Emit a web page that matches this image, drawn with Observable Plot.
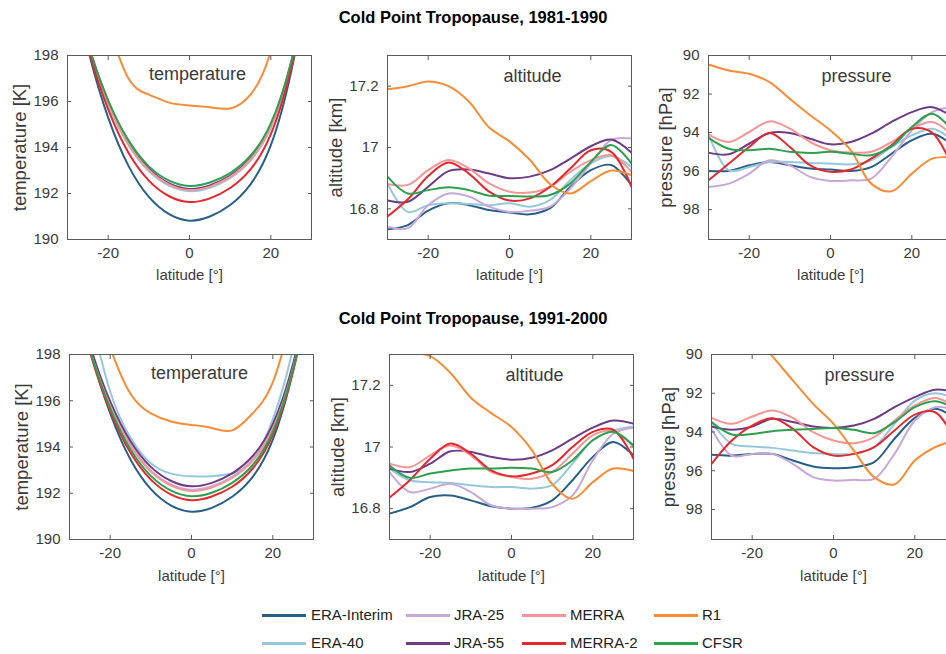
<!DOCTYPE html>
<html><head><meta charset="utf-8">
<script src="https://cdn.jsdelivr.net/npm/d3@7"></script>
<script src="https://cdn.jsdelivr.net/npm/@observablehq/plot@0.6"></script>
<style>
html,body{margin:0;padding:0;background:#fff;overflow:hidden;}
#root{position:relative;width:946px;height:654px;overflow:hidden;font-family:"Liberation Sans",Arial,Helvetica,sans-serif;}
.title{position:absolute;left:0;width:946px;text-align:center;font-weight:bold;font-size:16.5px;line-height:20px;color:#000;}
.leg{position:absolute;font-size:15px;line-height:18px;color:#222;white-space:nowrap;}
.legline{position:absolute;height:3px;width:44px;}
</style></head><body><div id="root"></div>
<script>
const lat = [-30,-25,-20,-15,-10,-5,0,5,10,15,20,25,30];
const datasets = ["ERA-Interim","ERA-40","JRA-25","JRA-55","MERRA","MERRA-2","R1","CFSR"];
const colors = ["#285f87","#96c8dc","#c7a8d6","#6e3c87","#f59696","#e5282d","#fa8c37","#2ca04f"];
const periods = ["Cold Point Tropopause, 1981-1990","Cold Point Tropopause, 1991-2000"];

// order of rows: ERA-Interim, ERA-40, JRA-25, JRA-55, MERRA, MERRA-2, R1, CFSR
const temp1981 = [
  [202.3,198.3,195.3,193.2,191.85,191.1,190.82,191.0,191.5,192.4,194.1,197.3,202.0],
  [201.76,198.38,195.86,194.1,192.97,192.34,192.1,192.25,192.67,193.43,194.86,197.54,201.5],
  [201.81,198.43,195.91,194.15,193.02,192.39,192.15,192.3,192.72,193.48,194.91,197.59,201.56],
  [201.98,198.56,196.01,194.22,193.08,192.44,192.2,192.35,192.78,193.54,194.99,197.71,201.72],
  [201.87,198.47,195.94,194.16,193.02,192.39,192.15,192.3,192.72,193.49,194.92,197.63,201.61],
  [201.98,198.36,195.66,193.77,192.56,191.88,191.63,191.79,192.24,193.05,194.58,197.46,201.71],
  [205,202,199.3,197.0,196.3,195.95,195.83,195.75,195.7,196.3,198.2,202,205],
  [201.88,198.54,196.05,194.31,193.18,192.56,192.33,192.48,192.89,193.64,195.05,197.71,201.63]
];
const alt1981 = [
  [16.733,16.747,16.794,16.818,16.812,16.796,16.788,16.782,16.802,16.872,16.926,16.943,16.877],
  [16.883,16.79,16.812,16.818,16.816,16.812,16.818,16.807,16.829,16.894,16.948,16.972,16.937],
  [16.742,16.737,16.812,16.85,16.84,16.807,16.79,16.794,16.807,16.867,16.948,17.024,17.029],
  [16.827,16.823,16.872,16.923,16.928,16.915,16.90,16.905,16.926,16.964,17.004,17.026,16.983],
  [16.881,16.878,16.926,16.959,16.932,16.883,16.856,16.853,16.872,16.921,16.959,16.975,16.921],
  [16.775,16.831,16.907,16.951,16.915,16.856,16.827,16.834,16.872,16.932,16.991,16.986,16.872],
  [17.19,17.20,17.215,17.20,17.15,17.065,17.02,16.96,16.88,16.85,16.89,16.925,16.91],
  [16.905,16.85,16.861,16.87,16.861,16.843,16.842,16.84,16.845,16.883,16.953,17.008,16.948]
];
const pres1981 = [
  [95.99,95.99,95.7,95.53,95.7,95.87,95.92,95.99,95.79,95.1,94.4,94.06,94.66],
  [94.09,95.96,95.79,95.53,95.53,95.58,95.61,95.65,95.44,94.75,94.15,93.8,94.4],
  [96.82,96.65,96.13,95.44,95.7,96.3,96.51,96.48,96.39,95.27,93.89,92.94,92.68],
  [95.04,95.13,94.58,94.02,94.02,94.32,94.61,94.49,94.06,93.45,92.94,92.68,93.2],
  [94.09,94.49,93.97,93.42,93.8,94.49,94.92,95.04,95.0,94.49,93.8,93.45,94.15],
  [96.48,95.61,94.75,94.02,94.75,95.7,96.04,95.92,95.35,94.66,93.8,94.0,95.8],
  [90.47,90.78,90.95,91.38,92.25,93.1,93.89,94.92,96.65,97.05,96.13,95.35,95.3],
  [94.27,94.84,94.92,94.84,95.0,95.06,95.0,95.1,95.18,94.72,93.71,93.02,93.9]
];
const temp1991 = [
  [202.1,198.31,195.46,193.46,192.18,191.47,191.2,191.37,191.85,192.7,194.32,197.36,201.84],
  [203.5,199.8,196.4,194.4,193.3,192.85,192.73,192.74,192.85,193.4,195.2,198.3,203],
  [201.58,198.28,195.82,194.1,192.99,192.38,192.15,192.3,192.71,193.45,194.84,197.46,201.33],
  [201.73,198.43,195.97,194.25,193.14,192.53,192.3,192.45,192.86,193.6,194.99,197.61,201.48],
  [201.53,198.23,195.77,194.05,192.94,192.33,192.1,192.25,192.66,193.4,194.79,197.41,201.28],
  [201.59,198.13,195.55,193.75,192.59,191.94,191.7,191.86,192.28,193.06,194.52,197.27,201.33],
  [204,201,198.3,196.3,195.45,195.1,194.95,194.82,194.72,195.45,196.8,199.8,203],
  [201.65,198.23,195.68,193.89,192.75,192.11,191.87,192.02,192.45,193.21,194.66,197.38,201.39]
];
const alt1991 = [
  [16.784,16.805,16.838,16.843,16.827,16.808,16.80,16.803,16.827,16.892,16.968,17.016,16.973],
  [16.93,16.892,16.886,16.883,16.876,16.87,16.87,16.865,16.876,16.946,17.022,17.054,17.067],
  [16.919,16.854,16.865,16.881,16.854,16.811,16.80,16.80,16.805,16.843,16.957,17.043,17.063],
  [16.93,16.919,16.946,16.986,16.984,16.968,16.959,16.965,16.989,17.027,17.063,17.086,17.076],
  [16.946,16.935,16.973,17.005,16.973,16.919,16.903,16.897,16.919,16.978,17.038,17.052,17.0],
  [16.836,16.892,16.962,17.011,16.978,16.924,16.905,16.914,16.941,17.0,17.049,17.056,16.962],
  [17.305,17.305,17.295,17.24,17.16,17.11,17.065,16.99,16.88,16.832,16.886,16.93,16.922],
  [16.94,16.90,16.914,16.924,16.93,16.93,16.933,16.93,16.919,16.957,17.022,17.049,17.005]
];
const pres1991 = [
  [95.18,95.22,95.13,95.13,95.47,95.78,95.87,95.82,95.56,94.35,93.27,92.8,93.32],
  [93.49,94.61,94.75,94.82,94.96,95.09,95.13,95.13,94.78,93.58,92.38,92.0,92.29],
  [93.84,95.22,95.13,95.13,95.65,96.33,96.51,96.47,96.42,95.13,93.41,92.72,92.89],
  [93.72,93.89,93.72,93.32,93.49,93.72,93.79,93.67,93.32,92.72,92.2,91.82,91.95],
  [93.27,93.58,93.2,92.89,93.27,94.01,94.44,94.58,94.27,93.41,92.63,92.24,92.72],
  [95.65,94.44,93.67,93.29,93.84,94.78,95.22,95.13,94.78,93.92,93.1,92.98,94.44],
  [86.8,87.8,88.9,90.1,91.34,92.55,93.58,94.96,96.33,96.71,95.47,94.78,94.44],
  [93.49,94.13,94.1,93.96,93.89,93.84,93.79,93.89,94.06,93.49,92.72,92.41,92.8]
];

const latTicks = [-20, 0, 20];
const tempTicks = [190, 192, 194, 196, 198];
const altTicks = [16.8, 17, 17.2];
const presTicks = [90, 92, 94, 96, 98];

const FONT = '"Liberation Sans", Arial, Helvetica, sans-serif';
const root = document.getElementById("root");
const fmt = d => String(d);

function makePanel(c) {
  const ML = 72, MR = 14, MT = 14, MB = 52, FW = 244;
  const rows = [];
  c.values.forEach((series, i) => series.forEach((v, j) => rows.push({lat: lat[j], value: v, set: datasets[i]})));
  const svg = Plot.plot({
    width: ML + FW + MR, height: MT + c.frameH + MB,
    marginLeft: ML, marginRight: MR, marginTop: MT, marginBottom: MB,
    style: {fontFamily: FONT, fontSize: "15px", color: "#3a3a3a", background: "transparent"},
    x: {domain: [-30, 30]},
    y: {domain: c.yDomain, reverse: !!c.reverse},
    color: {domain: datasets, range: colors},
    marks: [
      Plot.line(rows, {x: "lat", y: "value", z: "set", stroke: "set", strokeWidth: 2, curve: c.curve, clip: true}),
      Plot.frame({stroke: "#5a5a5a", strokeWidth: 1}),
      Plot.axisX({ticks: latTicks, anchor: "bottom", tickSize: -4, tickPadding: 12, tickFormat: fmt, label: null, stroke: "#5a5a5a"}),
      Plot.axisX({ticks: latTicks, anchor: "top", tickSize: -4, tickFormat: () => "", label: null, stroke: "#5a5a5a"}),
      Plot.axisY({ticks: c.yTicks, anchor: "left", tickSize: -4, tickPadding: 13, tickFormat: fmt, label: null, stroke: "#5a5a5a"}),
      Plot.axisY({ticks: c.yTicks, anchor: "right", tickSize: -4, tickFormat: () => "", label: null, stroke: "#5a5a5a"}),
      Plot.text(["latitude [°]"], {text: d => d, frameAnchor: "bottom", lineAnchor: "middle", dy: c.xLabelDy, fontSize: 15}),
      Plot.text([c.yLabel], {text: d => d, frameAnchor: "left", rotate: -90, lineAnchor: "middle", textAnchor: "middle", dx: c.yLabelDx, fontSize: 18.5}),
      Plot.text([c.name], {text: d => d, frameAnchor: "top", lineAnchor: "middle", dx: c.nameDx, dy: c.nameDy, fontSize: 18})
    ]
  });
  svg.style.position = "absolute";
  svg.style.left = (c.frameLeft - ML) + "px";
  svg.style.top = (c.frameTop - MT) + "px";
  root.appendChild(svg);
}

// titles
[[periods[0], 7], [periods[1], 308]].forEach(([t, top]) => {
  const d = document.createElement("div");
  d.className = "title"; d.textContent = t; d.style.top = top + "px";
  root.appendChild(d);
});

const rowsCfg = [
  {top: 55, h: 184, lefts: [67, 387, 708], xLabelDy: 36, vals: [temp1981, alt1981, pres1981]},
  {top: 354, h: 185, lefts: [69, 389, 711], xLabelDy: 37, vals: [temp1991, alt1991, pres1991]}
];
rowsCfg.forEach(r => {
  makePanel({values: r.vals[0], yDomain: [190, 198], yTicks: tempTicks, yLabel: "temperature [K]", name: "temperature", curve: "natural",
    frameLeft: r.lefts[0], frameTop: r.top, frameH: r.h, xLabelDy: r.xLabelDy, yLabelDx: -47, nameDx: 8, nameDy: 19});
  makePanel({values: r.vals[1], yDomain: [16.7, 17.3], yTicks: altTicks, yLabel: "altitude [km]", name: "altitude", curve: "catmull-rom",
    frameLeft: r.lefts[1], frameTop: r.top, frameH: r.h, xLabelDy: r.xLabelDy, yLabelDx: -51, nameDx: 23, nameDy: 21});
  makePanel({values: r.vals[2], yDomain: [90, 99.55], reverse: true, yTicks: presTicks, yLabel: "pressure [hPa]", name: "pressure", curve: "catmull-rom",
    frameLeft: r.lefts[2], frameTop: r.top, frameH: r.h, xLabelDy: r.xLabelDy, yLabelDx: -42, nameDx: 26, nameDy: 21});
});

// legend
const legCols = [[262, 311], [406, 454], [522, 570], [654, 702]];
const legRows = [615, 643];
datasets.forEach((name, i) => {
  const col = Math.floor(i / 2), row = i % 2;
  const ln = document.createElement("div");
  ln.className = "legline";
  ln.style.left = legCols[col][0] + "px";
  ln.style.top = (legRows[row] - 1.5) + "px";
  ln.style.background = colors[i];
  root.appendChild(ln);
  const tx = document.createElement("div");
  tx.className = "leg";
  tx.textContent = name;
  tx.style.left = legCols[col][1] + "px";
  tx.style.top = (legRows[row] - 9) + "px";
  root.appendChild(tx);
});
</script></body></html>
